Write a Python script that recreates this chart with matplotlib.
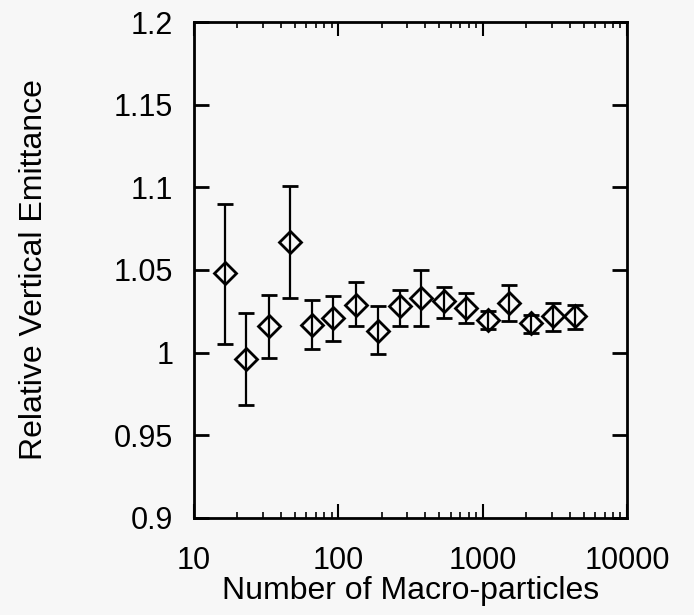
import numpy as np
import matplotlib
matplotlib.use("Agg")
import matplotlib.pyplot as plt
from matplotlib.ticker import LogLocator, FixedLocator, NullFormatter

# number of macro-particles and relative vertical emittance
particles = [16.5, 23, 33, 46, 66, 92, 132, 188, 268, 376, 536, 770, 1080, 1520, 2150, 3080, 4350]
emittance = [1.048, 0.996, 1.016, 1.067, 1.017, 1.021, 1.029, 1.013, 1.028, 1.033, 1.031, 1.027, 1.020, 1.030, 1.018, 1.022, 1.022]
err_top = [1.090, 1.024, 1.035, 1.101, 1.032, 1.034, 1.043, 1.028, 1.038, 1.050, 1.040, 1.036, 1.025, 1.041, 1.023, 1.030, 1.029]
err_bot = [1.005, 0.968, 0.997, 1.033, 1.002, 1.007, 1.016, 0.999, 1.016, 1.016, 1.021, 1.018, 1.014, 1.019, 1.012, 1.013, 1.014]

yticks = [0.9, 0.95, 1.0, 1.05, 1.1, 1.15, 1.2]
ytick_labels = ['0.9', '0.95', '1', '1.05', '1.1', '1.15', '1.2']
xticks = [10, 100, 1000, 10000]
xtick_labels = ['10', '100', '1000', '10000']

plt.rcParams['font.family'] = ['Liberation Sans', 'DejaVu Sans']
bg = '#f7f7f7'

fig = plt.figure(figsize=(6.94, 6.15), dpi=100, facecolor=bg)
ax = fig.add_axes([0.2795, 0.158, 0.624, 0.806])
ax.set_facecolor(bg)

em = np.array(emittance)
lower = em - np.array(err_bot)
upper = np.array(err_top) - em
ax.errorbar(particles, emittance, yerr=[lower, upper], fmt='D', color='black',
            mfc='none', mec='black', mew=2, ms=11, ecolor='black',
            elinewidth=1.6, capsize=5.5, capthick=2)

ax.set_xscale('log')
ax.set_xlim(10, 10000)
ax.set_ylim(0.9, 1.2)
ax.xaxis.set_major_locator(FixedLocator(xticks))
ax.set_xticklabels(xtick_labels)
ax.xaxis.set_minor_locator(LogLocator(base=10, subs=np.arange(2, 10)))
ax.xaxis.set_minor_formatter(NullFormatter())
ax.set_yticks(yticks)
ax.set_yticklabels(ytick_labels)

ax.tick_params(axis='both', which='both', direction='in', top=True, right=True,
               labelsize=22, colors='black')
ax.tick_params(axis='y', which='major', length=11, width=2, pad=15)
ax.tick_params(axis='x', which='major', length=10, width=1.5, pad=20)
ax.tick_params(axis='x', which='minor', length=4, width=1.2)
for s in ax.spines.values():
    s.set_linewidth(2)

ax.set_xlabel('Number of Macro-particles', fontsize=23, labelpad=0)
ax.set_ylabel('Relative Vertical Emittance', fontsize=23)
ax.yaxis.set_label_coords(-0.335, 0.5)

fig.savefig('out.png', dpi=100, facecolor=bg)
